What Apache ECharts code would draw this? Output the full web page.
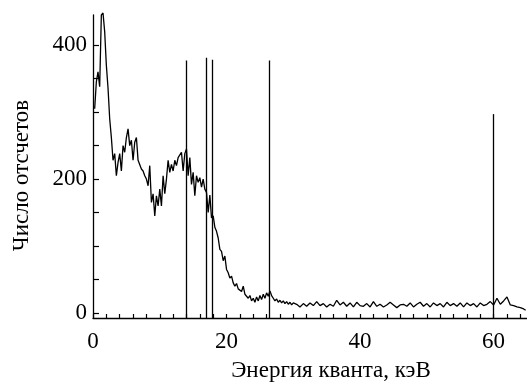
<!DOCTYPE html>
<html>
<head>
<meta charset="utf-8">
<script src="https://cdn.jsdelivr.net/npm/echarts@6/dist/echarts.min.js"></script>
<style>
  html, body { margin: 0; padding: 0; background: #fff; }
  #spectrum { width: 527px; height: 385px; }
</style>
</head>
<body>
<div id="spectrum"></div>
<script>
// energy, keV
var energies = [
  0.25, 0.5, 0.75, 1.0, 1.25, 1.5, 1.75, 2.0, 2.25, 2.5, 2.75, 3.0,
  3.25, 3.5, 3.75, 4.0, 4.25, 4.5, 4.75, 5.0, 5.25, 5.5, 5.75, 6.0,
  6.25, 6.5, 6.75, 7.0, 7.25, 7.5, 7.75, 8.0, 8.25, 8.5, 8.75, 9.0,
  9.25, 9.5, 9.75, 10.0, 10.25, 10.5, 10.75, 11.0, 11.25, 11.5, 11.75, 12.0,
  12.25, 12.5, 12.75, 13.0, 13.25, 13.5, 13.75, 14.0, 14.25, 14.5, 14.75, 15.0,
  15.25, 15.5, 15.75, 16.0, 16.25, 16.5, 16.75, 17.0, 17.25, 17.5, 17.75, 18.0,
  18.25, 18.5, 18.75, 19.0, 19.25, 19.5, 19.75, 20.0, 20.25, 20.5, 20.75, 21.0,
  21.25, 21.5, 21.75, 22.0, 22.25, 22.5, 22.75, 23.0, 23.25, 23.5, 23.75, 24.0,
  24.25, 24.5, 24.75, 25.0, 25.25, 25.5, 25.75, 26.0, 26.25, 26.5, 26.75, 27.0,
  27.25, 27.5, 27.75, 28.0, 28.25, 28.5, 28.75, 29.0, 29.25, 29.5, 29.75, 30.0,
  30.5, 31.0, 31.5, 32.0, 32.5, 33.0, 33.5, 34.0, 34.5, 35.0, 35.5, 36.0,
  36.5, 37.0, 37.5, 38.0, 38.5, 39.0, 39.5, 40.0, 40.5, 41.0, 41.5, 42.0,
  42.5, 43.0, 43.5, 44.0, 44.5, 45.0, 45.5, 46.0, 46.5, 47.0, 47.5, 48.0,
  48.5, 49.0, 49.5, 50.0, 50.5, 51.0, 51.5, 52.0, 52.5, 53.0, 53.5, 54.0,
  54.5, 55.0, 55.5, 56.0, 56.5, 57.0, 57.5, 58.0, 58.5, 59.0, 59.5, 60.0,
  60.5, 61.0, 61.5, 62.0, 62.5, 63.0, 63.5, 64.0, 64.5, 64.8
];

// counts
var counts = [
  305, 345, 360, 338, 445, 448, 420, 370, 336, 290, 262, 228,
  238, 205, 225, 238, 212, 250, 240, 262, 275, 250, 258, 228,
  255, 262, 228, 230, 215, 212, 205, 200, 190, 220, 165, 178,
  145, 175, 160, 185, 160, 205, 178, 200, 228, 210, 222, 212,
  228, 220, 232, 230, 240, 212, 238, 245, 205, 232, 192, 210,
  175, 205, 195, 202, 188, 200, 185, 180, 150, 176, 142, 145,
  128, 122, 112, 95, 92, 78, 85, 65, 60, 52, 55, 45,
  40, 44, 36, 38, 32, 40, 28, 30, 22, 26, 18, 22,
  16, 24, 18, 26, 20, 28, 22, 30, 25, 33, 26, 22,
  18, 21, 16, 19, 15, 18, 14, 17, 13, 16, 12, 15,
  13, 9, 14, 10, 15, 11, 17, 11, 14, 9, 13, 10,
  19, 12, 16, 10, 15, 9, 16, 11, 10, 14, 9, 17,
  10, 13, 9, 12, 16, 12, 8, 12, 13, 10, 15, 9,
  13, 16, 10, 14, 9, 15, 11, 14, 9, 16, 11, 14,
  10, 15, 9, 15, 11, 14, 9, 15, 11, 13, 17, 12,
  22, 13, 18, 24, 12, 11, 9, 8, 6, 4
];

// vertical reference lines
var lineEnergies = [14.0, 16.9, 17.8, 26.4, 60.0];
var lineHeights = [377, 381, 378, 377, 297];

var xTicks = [0, 2, 4, 6, 8, 10, 12, 14, 16, 18, 20, 22, 24, 26, 28, 30, 32,
  34, 36, 38, 40, 42, 44, 46, 48, 50, 52, 54, 56, 58, 60, 62, 64];
var xLabels = [0, 20, 40, 60];
var yTicks = [0, 50, 100, 150, 200, 250, 300, 350, 400];
var yLabels = [0, 200, 400];

var yMin = -7.5;

var spectrum = energies.map(function (e, i) { return [e, counts[i]]; });
var lineData = lineEnergies.map(function (e, i) {
  return [{ coord: [e, yMin] }, { coord: [e, lineHeights[i]] }];
});

var font = '"Liberation Serif", "Times New Roman", serif';

var myChart = echarts.init(document.getElementById('spectrum'), null, { renderer: 'canvas' });

var option = {
  animation: false,
  backgroundColor: '#fff',
  grid: { left: 93, right: 0, top: 15, bottom: 67, outerBoundsMode: 'none' },
  xAxis: {
    type: 'value',
    min: 0,
    max: 65,
    name: 'Энергия кванта, кэВ',
    nameLocation: 'middle',
    nameGap: 41,
    nameTextStyle: { fontFamily: font, fontSize: 23, color: '#000', padding: [0, 0, 0, 42] },
    axisLine: { show: true, onZero: false, lineStyle: { color: '#000', width: 1.3 } },
    axisTick: { show: true, inside: true, length: 4, customValues: xTicks, lineStyle: { color: '#000', width: 1.2 } },
    axisLabel: { customValues: xLabels, fontFamily: font, fontSize: 23, color: '#000', margin: 12 },
    splitLine: { show: false }
  },
  yAxis: {
    type: 'value',
    min: yMin,
    max: 445,
    name: 'Число отсчетов',
    nameLocation: 'middle',
    nameGap: 60,
    nameTextStyle: { fontFamily: font, fontSize: 23, color: '#000', padding: [0, 18, 0, 0] },
    axisLine: { show: true, onZero: false, lineStyle: { color: '#000', width: 1.3 } },
    axisTick: { show: true, inside: true, length: 6, customValues: yTicks, lineStyle: { color: '#000', width: 1.2 } },
    axisLabel: { customValues: yLabels, fontFamily: font, fontSize: 23, color: '#000', margin: 6 },
    splitLine: { show: false }
  },
  series: [
    {
      type: 'line',
      data: spectrum,
      showSymbol: false,
      clip: false,
      lineStyle: { color: '#000', width: 1.3 },
      markLine: {
        silent: true,
        symbol: 'none',
        label: { show: false },
        lineStyle: { color: '#000', width: 1.3, type: 'solid' },
        data: lineData
      }
    }
  ]
};

myChart.setOption(option);
</script>
</body>
</html>
